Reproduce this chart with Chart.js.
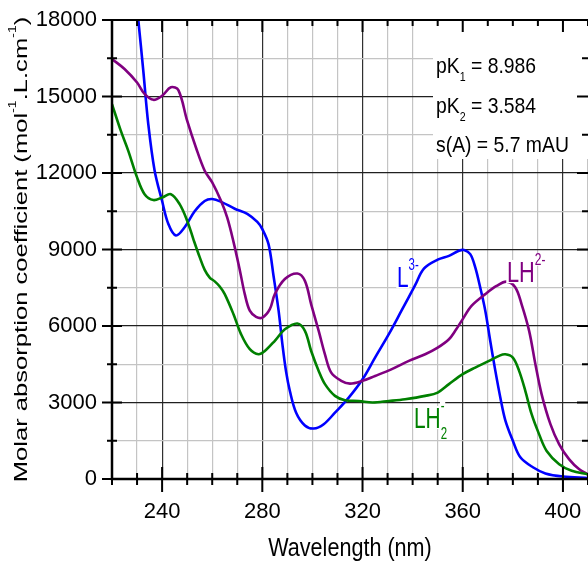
<!DOCTYPE html>
<html>
<head>
<meta charset="utf-8">
<script src="https://cdn.jsdelivr.net/npm/chart.js@4.4.1/dist/chart.umd.min.js"></script>
<style>
  html, body { margin: 0; padding: 0; background: #fff; }
  canvas { display: block; }
</style>
</head>
<body>
<canvas id="spectra" width="588" height="567"></canvas>
<script>
// L3- spectrum: wavelength (nm) / molar absorption coefficient
const l3Nm  = [228, 230.5, 232.5, 234.5, 237, 240, 242.5, 245.5, 249, 253, 257, 260, 264, 269, 274, 278, 280, 282.5, 284.5, 286.5, 288, 289.5, 291, 293.5, 297, 300.5, 304.5, 309, 314.5, 320, 325, 330.5, 335.5, 341, 344.5, 350, 354.5, 358.5, 360.5, 363, 365, 367, 369, 371, 373, 375, 377, 380, 383, 388, 393, 400, 410];
const l3Eps = [20400, 18000, 16000, 13900, 12100, 10900, 10000, 9550, 9870, 10500, 10900, 10980, 10850, 10600, 10400, 10080, 9800, 9200, 7950, 6600, 5300, 4200, 3450, 2600, 2100, 1980, 2150, 2600, 3190, 3910, 4760, 5680, 6590, 7600, 8250, 8600, 8750, 8950, 8980, 8820, 8300, 7500, 6600, 5400, 4250, 3200, 2300, 1500, 850, 460, 220, 100, 40];

// LH2- spectrum
const lh2mNm  = [220, 225, 230, 233, 236.5, 240, 243.5, 246.5, 250, 253.5, 257, 260, 263.5, 266, 268.5, 271, 273, 275, 277.5, 280, 283, 285, 289, 294, 297, 299.5, 302.5, 305, 307.5, 311.5, 315, 320, 325, 331.5, 338.5, 345, 350, 354.5, 357, 360, 363.5, 369, 373.5, 377.5, 381, 383.5, 386.5, 389, 391.5, 395, 398.5, 402.5, 406.5, 410];
const lh2mEps = [16470, 16080, 15550, 15100, 14870, 15030, 15360, 15250, 14050, 13000, 12090, 11630, 10910, 10250, 9300, 8200, 7250, 6600, 6360, 6330, 6660, 7250, 7840, 8060, 7770, 6850, 5810, 4890, 4170, 3850, 3740, 3850, 4040, 4300, 4630, 4890, 5150, 5480, 5810, 6270, 6790, 7250, 7570, 7740, 7510, 6850, 5810, 4500, 3320, 2150, 1360, 770, 380, 180];

// LH2^- spectrum
const lh2Nm  = [220, 223.5, 226.5, 230, 233, 236.5, 240, 243.5, 247, 250, 252.5, 255, 257, 259, 261, 263, 265, 268.5, 271.5, 275, 278.5, 281, 285, 289, 294, 297, 299.5, 302.5, 305, 309, 313, 318.5, 324, 330.5, 337, 345, 350, 354.5, 360, 365, 370.5, 374.5, 377, 380, 382.5, 385, 387.5, 390.5, 393.5, 398.5, 403.5, 410];
const lh2Eps = [14700, 13660, 12870, 11830, 11170, 10940, 11040, 11170, 10780, 10130, 9400, 8700, 8200, 7900, 7750, 7550, 7250, 6460, 5680, 5090, 4890, 5020, 5420, 5870, 6100, 5810, 5020, 4240, 3720, 3260, 3090, 3060, 3000, 3060, 3130, 3260, 3390, 3720, 4110, 4370, 4630, 4830, 4890, 4760, 4240, 3450, 2540, 1750, 1100, 580, 320, 180];

// labelled ticks
const xLabelTicks = [240, 280, 320, 360, 400];
const yLabelTicks = [0, 3000, 6000, 9000, 12000, 15000, 18000];

// fit results shown in the corner box
const fitText = [
  [['pK', ''], ['1', 'sub'], [' = 8.986', '']],
  [['pK', ''], ['2', 'sub'], [' = 3.584', '']],
  [['s(A) = 5.7 mAU', '']]
];

const FONT = '"Liberation Sans", Arial, sans-serif';

function toPoints(xs, ys) {
  return xs.map((v, i) => ({ x: v, y: ys[i] }));
}

function segSize(size, mode) { return mode ? size * 0.55 : size; }
function segShift(size, mode) {
  if (mode === 'sup') return -0.58 * size;
  if (mode === 'sub') return 0.38 * size;
  return 0;
}

function richWidth(ctx, parts, size) {
  let w = 0;
  for (const [t, mode, stay] of parts) {
    ctx.font = segSize(size, mode) + 'px ' + FONT;
    if (!stay) w += ctx.measureText(t).width;
  }
  return w;
}

// draws mixed normal/super/subscript text at the current origin (left, baseline)
function drawRich(ctx, parts, size, color, boxed) {
  const items = [];
  let cx = 0;
  for (const [t, mode, stay] of parts) {
    const fs = segSize(size, mode);
    ctx.font = fs + 'px ' + FONT;
    const w = ctx.measureText(t).width;
    items.push({ t, fs, w, cx, dy: segShift(size, mode) });
    if (!stay) cx += w;
  }
  if (boxed) {
    ctx.fillStyle = '#fff';
    items.forEach(it => ctx.fillRect(it.cx - 1, it.dy - it.fs * 0.76, it.w + 2, it.fs * 0.8));
  }
  ctx.fillStyle = color;
  ctx.textBaseline = 'alphabetic';
  ctx.textAlign = 'left';
  items.forEach(it => {
    ctx.font = it.fs + 'px ' + FONT;
    ctx.fillText(it.t, it.cx, it.dy);
  });
}

function label(ctx, parts, x, y, size, sx, color, boxed) {
  ctx.save();
  ctx.translate(x, y);
  ctx.scale(sx, 1);
  drawRich(ctx, parts, size, color, boxed);
  ctx.restore();
}

const decorations = {
  id: 'decorations',
  afterDatasetsDraw(chart) {
    const { ctx, chartArea: a } = chart;
    ctx.save();
    // fit results box
    ctx.fillStyle = '#fff';
    ctx.fillRect(433, a.top, a.right - 433, 159 - a.top);
    fitText.forEach((parts, i) => label(ctx, parts, 436, 73 + i * 39.5, 22, 0.88, '#000', false));

    // species labels
    label(ctx, [['L', ''], ['3-', 'sup']], 397, 287, 29, 0.72, '#0000ff', true);
    label(ctx, [['LH', ''], ['2-', 'sup']], 507, 282, 29, 0.75, '#800080', true);
    label(ctx, [['LH', ''], ['-', 'sup', true], ['2', 'sub']], 414, 428, 29, 0.72, '#008000', true);

    // axis titles
    const xt = [['Wavelength (nm)', '']];
    ctx.save();
    const xw = richWidth(ctx, xt, 26) * 0.83;
    label(ctx, xt, (a.left + a.right) / 2 - xw / 2, 556, 26, 0.83, '#000', false);
    ctx.restore();

    const yt = [['Molar absorption coefficient (mol', ''], ['-1', 'sup'], ['.L.cm', ''], ['-1', 'sup'], [')', '']];
    ctx.save();
    const yw = richWidth(ctx, yt, 25.6);
    ctx.translate(27, (a.top + a.bottom) / 2);
    ctx.rotate(-Math.PI / 2);
    ctx.scale(1, 0.75);
    ctx.translate(-yw / 2, 0);
    drawRich(ctx, yt, 25.6, '#000', false);
    ctx.restore();
    ctx.restore();
  },
  afterDraw(chart) {
    const { ctx, chartArea: a, scales: { x, y } } = chart;
    ctx.save();
    ctx.strokeStyle = '#000';
    ctx.lineWidth = 2;
    ctx.beginPath();
    x.ticks.forEach(t => {
      const px = x.getPixelForValue(t.value);
      const major = t.value % 40 === 0;
      ctx.moveTo(px, a.bottom - (major ? 12 : 6));
      ctx.lineTo(px, a.bottom + (major ? 13 : 6));
      ctx.moveTo(px, a.top);
      ctx.lineTo(px, a.top + (major ? 12 : 6));
    });
    y.ticks.forEach(t => {
      const py = y.getPixelForValue(t.value);
      const major = t.value % 3000 === 0;
      ctx.moveTo(a.left - (major ? 10 : 5), py);
      ctx.lineTo(a.left + (major ? 10 : 5), py);
      ctx.moveTo(a.right, py);
      ctx.lineTo(a.right - (major ? 11 : 6), py);
    });
    ctx.stroke();
    // frame
    ctx.lineWidth = 2.5;
    ctx.beginPath();
    ctx.moveTo(a.left, a.top);
    ctx.lineTo(a.left, a.bottom);
    ctx.lineTo(a.right, a.bottom);
    ctx.stroke();
    ctx.lineWidth = 2;
    ctx.beginPath();
    ctx.moveTo(a.left, a.top);
    ctx.lineTo(a.right, a.top);
    ctx.stroke();
    ctx.restore();
  }
};

function series(xs, ys, color) {
  return {
    data: toPoints(xs, ys),
    borderColor: color,
    borderWidth: 2.6,
    pointRadius: 0,
    fill: false,
    tension: 0.35
  };
}

new Chart(document.getElementById('spectra').getContext('2d'), {
  type: 'line',
  data: {
    datasets: [
      series(lh2Nm, lh2Eps, '#008000'),
      series(lh2mNm, lh2mEps, '#800080'),
      series(l3Nm, l3Eps, '#0000ff')
    ]
  },
  options: {
    responsive: false,
    animation: false,
    devicePixelRatio: 1,
    layout: { padding: { top: 20, left: 0, right: 0, bottom: 0 } },
    plugins: {
      legend: { display: false },
      tooltip: { enabled: false }
    },
    scales: {
      x: {
        type: 'linear',
        min: 220,
        max: 410,
        afterFit: s => { s.height = 88; s.paddingLeft = 0; s.paddingRight = 0; },
        border: { display: false },
        grid: {
          drawTicks: false,
          lineWidth: 1.2,
          color: c => (c.tick && c.tick.value % 40 === 0 ? '#303030' : '#c4c4c4')
        },
        ticks: {
          stepSize: 10,
          autoSkip: false,
          maxRotation: 0,
          padding: 20,
          color: '#000',
          font: { family: FONT, size: 22 },
          callback: v => (xLabelTicks.includes(v) ? String(v) : '')
        }
      },
      y: {
        min: 0,
        max: 18000,
        afterFit: s => { s.width = 112; s.paddingTop = 0; s.paddingBottom = 0; },
        border: { display: false },
        grid: {
          drawTicks: false,
          lineWidth: 1.2,
          color: c => (c.tick && c.tick.value % 3000 === 0 ? '#202020' : '#c4c4c4')
        },
        ticks: {
          stepSize: 1500,
          autoSkip: false,
          padding: 15,
          color: '#000',
          font: { family: FONT, size: 22 },
          callback: v => (yLabelTicks.includes(v) ? String(v) : '')
        }
      }
    }
  },
  plugins: [decorations]
});
</script>
</body>
</html>
